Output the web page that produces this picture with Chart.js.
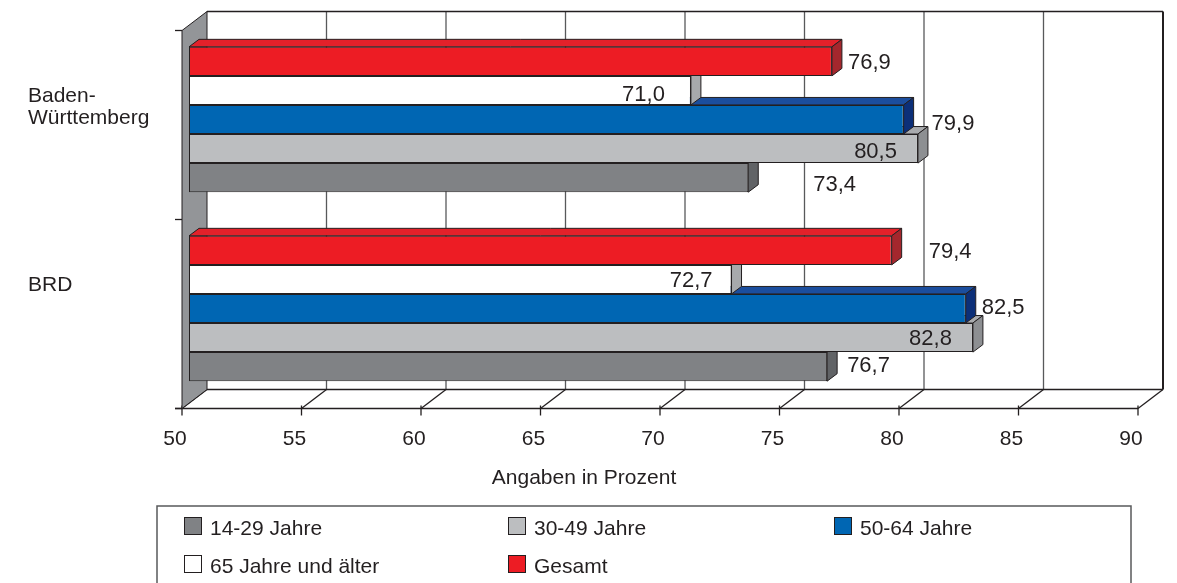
<!DOCTYPE html>
<html lang="de">
<head>
<meta charset="utf-8">
<title>Angaben in Prozent</title>
<script src="https://cdn.jsdelivr.net/npm/chart.js@4.4.1/dist/chart.umd.min.js"></script>
<style>
  html, body { margin: 0; padding: 0; background: #fff; }
  #chart { display: block; }
</style>
</head>
<body>
<canvas id="chart" width="1177" height="583"></canvas>
<script>
// Daten
var regionen = ["Baden-Württemberg", "BRD"];
var regionZeilen = [["Baden-", "Württemberg"], ["BRD"]];
var gruppen = ["Gesamt", "65 Jahre und älter", "50-64 Jahre", "30-49 Jahre", "14-29 Jahre"];
var gesamt = [76.9, 79.4];
var ab65 = [71.0, 72.7];
var j50bis64 = [79.9, 82.5];
var j30bis49 = [80.5, 82.8];
var j14bis29 = [73.4, 76.7];
var xTicks = [50, 55, 60, 65, 70, 75, 80, 85, 90];
var achsenTitel = "Angaben in Prozent";
var legendeReihenfolge = ["14-29 Jahre", "30-49 Jahre", "50-64 Jahre", "65 Jahre und älter", "Gesamt"];

var werte = [gesamt, ab65, j50bis64, j30bis49, j14bis29];

// Farben: Vorderseite, Oberseite, Seitenfläche
var FARBEN = {
    "Gesamt": { front: "#ed1c24", top: "#e3212a", side: "#a4272d" },
    "65 Jahre und älter": { front: "#ffffff", top: "#d1d3d4", side: "#a7a9ac" },
    "50-64 Jahre": { front: "#0066b3", top: "#1b4e9e", side: "#0c2f78" },
    "30-49 Jahre": { front: "#bcbec0", top: "#a9abae", side: "#8d8f92" },
    "14-29 Jahre": { front: "#808285", top: "#6e7073", side: "#616366" }
};

// Wertebeschriftung: Ausrichtung und Versatz zum Balkenende
var WERT_POS = {
    "Gesamt": [["left", 16, 0], ["left", 37, 0]],
    "65 Jahre und älter": [["right", -26, 3], ["right", -19, 0]],
    "50-64 Jahre": [["left", 28, 2], ["left", 16, -3]],
    "30-49 Jahre": [["right", -21, 1], ["right", -21, -1]],
    "14-29 Jahre": [["left", 65, 5], ["left", 20, -3]]
};

var SCHRIFT = '"Liberation Sans", Arial, sans-serif';
var TEXT = "#231f20";
var LINIE = "#231f20";
var GITTER = "#58595b";

// 3D-Versatz: Vorderkante, Rückwand, Balkentiefe
var D = { fx: -7, fy: 5.5, bx: 18, by: -13.5, tx: 10, ty: -7.5 };

function poly(ctx, pts, fill, stroke) {
    ctx.beginPath();
    ctx.moveTo(pts[0][0], pts[0][1]);
    for (var i = 1; i < pts.length; i++) ctx.lineTo(pts[i][0], pts[i][1]);
    ctx.closePath();
    if (fill) { ctx.fillStyle = fill; ctx.fill(); }
    if (stroke) { ctx.strokeStyle = stroke; ctx.lineWidth = 1; ctx.stroke(); }
}

function linie(ctx, x1, y1, x2, y2) {
    ctx.beginPath(); ctx.moveTo(x1, y1); ctx.lineTo(x2, y2); ctx.stroke();
}

function fmt(v) { return v.toFixed(1).replace(".", ","); }

var raum3d = {
    id: "raum3d",
    beforeDatasetsDraw: function (chart) {
        var ctx = chart.ctx, a = chart.chartArea, xs = chart.scales.x;
        var top = a.top, bot = a.bottom, mid = (top + bot) / 2;
        var x0 = xs.getPixelForValue(xTicks[0]), xN = xs.getPixelForValue(xTicks[xTicks.length - 1]);
        ctx.save();

        // Rückwand mit Gitterlinien
        ctx.strokeStyle = GITTER; ctx.lineWidth = 1.3;
        xTicks.slice(1, -1).forEach(function (t) {
            var x = xs.getPixelForValue(t) + D.bx;
            linie(ctx, x, top + D.by, x, bot + D.by);
        });
        ctx.strokeStyle = LINIE; ctx.lineWidth = 1.3;
        linie(ctx, x0 + D.bx, top + D.by, xN + D.bx, top + D.by);
        ctx.lineWidth = 2;
        linie(ctx, xN + D.bx, top + D.by, xN + D.bx, bot + D.by);

        // Boden
        ctx.lineWidth = 1.3;
        linie(ctx, x0 + D.bx, bot + D.by, xN + D.bx, bot + D.by);
        linie(ctx, x0 + D.fx - 7, bot + D.fy, xN + D.fx, bot + D.fy);
        xTicks.forEach(function (t) {
            var x = xs.getPixelForValue(t);
            linie(ctx, x + D.fx, bot + D.fy, x + D.bx, bot + D.by);
            linie(ctx, x + D.fx, bot + D.fy - 3, x + D.fx, bot + D.fy + 7);
        });

        // linke Seitenwand
        poly(ctx, [[x0 + D.fx, top + D.fy], [x0 + D.bx, top + D.by], [x0 + D.bx, bot + D.by], [x0 + D.fx, bot + D.fy]], "#939598", LINIE);
        ctx.strokeStyle = LINIE; ctx.lineWidth = 1.3;
        [top, mid, bot].forEach(function (y) {
            linie(ctx, x0 + D.fx - 7, y + D.fy, x0 + D.fx, y + D.fy);
        });
        ctx.restore();
    },
    beforeDatasetDraw: function (chart, args) {
        var ctx = chart.ctx, f = FARBEN[chart.data.datasets[args.index].label];
        ctx.save();
        args.meta.data.forEach(function (bar) {
            var p = bar.getProps(["x", "y", "base", "height"], true);
            var t = p.y - p.height / 2, b = p.y + p.height / 2;
            poly(ctx, [[p.base, t], [p.base + D.tx, t + D.ty], [p.x + D.tx, t + D.ty], [p.x, t]], f.top, LINIE);
            poly(ctx, [[p.x, t], [p.x + D.tx, t + D.ty], [p.x + D.tx, b + D.ty], [p.x, b]], f.side, LINIE);
        });
        ctx.restore();
    },
    afterDraw: function (chart) {
        var ctx = chart.ctx, xs = chart.scales.x, ys = chart.scales.y;
        ctx.save();
        ctx.fillStyle = TEXT;
        ctx.textBaseline = "alphabetic";

        // Werte an den Balken
        ctx.font = "22px " + SCHRIFT;
        chart.data.datasets.forEach(function (ds, i) {
            chart.getDatasetMeta(i).data.forEach(function (bar, j) {
                var pos = WERT_POS[ds.label][j];
                ctx.textAlign = pos[0];
                ctx.fillText(fmt(ds.data[j]), bar.x + pos[1], bar.y + pos[2] + 8);
            });
        });

        // x-Achse
        ctx.font = "21px " + SCHRIFT;
        ctx.textAlign = "center";
        xTicks.forEach(function (t) {
            ctx.fillText(String(t), xs.getPixelForValue(t) - 14, 445);
        });
        ctx.fillText(achsenTitel, 584, 484);

        // Regionen
        ctx.textAlign = "left";
        regionZeilen.forEach(function (zeilen, i) {
            var yc = ys.getPixelForValue(i);
            zeilen.forEach(function (z, k) {
                ctx.fillText(z, 28, yc - 18 + k * 22);
            });
        });

        // Legende
        ctx.strokeStyle = "#58595b"; ctx.lineWidth = 1.5;
        ctx.strokeRect(157, 506, 974, 100);
        var spalten = [184, 508, 834], zeilenY = [517, 555];
        legendeReihenfolge.forEach(function (name, k) {
            var x = spalten[k % 3], y = zeilenY[Math.floor(k / 3)];
            ctx.fillStyle = FARBEN[name].front;
            ctx.fillRect(x, y, 18, 18);
            ctx.strokeStyle = LINIE; ctx.lineWidth = 1;
            ctx.strokeRect(x + 0.5, y + 0.5, 17, 17);
            ctx.fillStyle = TEXT;
            ctx.fillText(name, x + 26, y + 18);
        });
        ctx.restore();
    }
};

var datasets = gruppen.map(function (name, i) {
    return {
        label: name,
        data: werte[i],
        base: xTicks[0],
        backgroundColor: FARBEN[name].front,
        borderColor: LINIE,
        borderWidth: 1,
        borderSkipped: false
    };
});

new Chart(document.getElementById("chart"), {
    type: "bar",
    data: { labels: regionen, datasets: datasets },
    options: {
        indexAxis: "y",
        responsive: false,
        animation: false,
        layout: { padding: { left: 189, right: 32, top: 25, bottom: 180 } },
        datasets: { bar: { categoryPercentage: 0.769, barPercentage: 1 } },
        scales: {
            x: { min: 50, max: 90, display: false },
            y: { display: false }
        },
        plugins: { legend: { display: false }, tooltip: { enabled: false } }
    },
    plugins: [raum3d]
});
</script>
</body>
</html>
